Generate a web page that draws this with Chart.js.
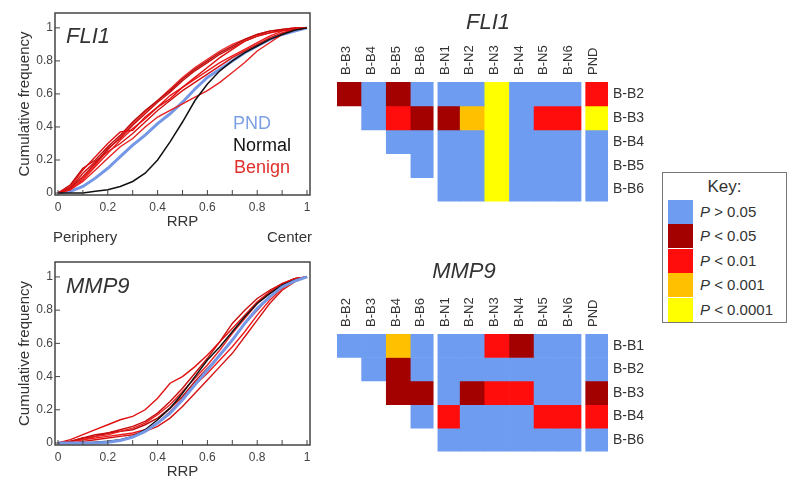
<!DOCTYPE html>
<html><head><meta charset="utf-8">
<script src="https://cdn.jsdelivr.net/npm/chart.js@4.4.0/dist/chart.umd.min.js"></script>
<style>
body{margin:0;background:#fff;width:800px;height:490px;overflow:hidden;position:relative;font-family:Arial,"Liberation Sans",sans-serif}
canvas{position:absolute}
#key{position:absolute;left:662px;top:172px;width:125px;height:151px;border:1px solid #777;box-sizing:border-box;color:#333;background:#fff}
#key .t{position:absolute;left:0;width:100%;top:4px;text-align:center;font-size:17px;line-height:20px}
#key .row{position:absolute;left:5px;height:24px;width:115px}
#key .sw{position:absolute;left:0;top:0;width:25px;height:100%}
#key .lb{position:absolute;left:32px;top:0;line-height:24px;font-size:15px;white-space:nowrap}
</style></head><body>
<canvas id="cdf1" width="330" height="250" style="left:0;top:0"></canvas>
<canvas id="cdf2" width="330" height="240" style="left:0;top:250px"></canvas>
<canvas id="hm1" width="340" height="215" style="left:320px;top:0"></canvas>
<canvas id="hm2" width="340" height="215" style="left:320px;top:250px"></canvas>
<div id="key"><div class="t">Key:</div></div>
<script>
// ---------- data ----------
const rrp = [0,0.05,0.1,0.15,0.2,0.25,0.3,0.35,0.4,0.45,0.5,0.55,0.6,0.65,0.7,0.75,0.8,0.85,0.9,0.95,1];
const xTickValues = [0,0.2,0.4,0.6,0.8,1];
const xMinorTicks = [0,0.1,0.2,0.3,0.4,0.5,0.6,0.7,0.8,0.9,1];
const yTickValues = [0,0.2,0.4,0.6,0.8,1];

const fli1PND    = [0,0.01,0.04,0.09,0.15,0.22,0.29,0.35,0.42,0.48,0.55,0.63,0.70,0.75,0.80,0.85,0.89,0.93,0.96,0.98,1];
const fli1Normal = [0,0,0,0.01,0.02,0.04,0.07,0.12,0.20,0.31,0.43,0.56,0.66,0.74,0.80,0.85,0.89,0.93,0.96,0.985,1];
const fli1Benign = [
  [0,0.04,0.14,0.22,0.30,0.37,0.38,0.46,0.52,0.57,0.64,0.70,0.76,0.82,0.87,0.92,0.95,0.97,0.985,0.995,1],
  [0,0.03,0.10,0.18,0.27,0.33,0.41,0.48,0.55,0.61,0.68,0.74,0.79,0.84,0.88,0.92,0.95,0.97,0.985,0.995,1],
  [0,0.02,0.08,0.16,0.24,0.32,0.39,0.45,0.52,0.59,0.64,0.69,0.74,0.79,0.83,0.87,0.91,0.95,0.98,0.99,1],
  [0,0.03,0.12,0.19,0.25,0.30,0.36,0.43,0.50,0.56,0.62,0.67,0.72,0.77,0.82,0.86,0.90,0.94,0.97,0.99,1],
  [0,0.02,0.07,0.14,0.21,0.28,0.33,0.40,0.46,0.50,0.54,0.58,0.62,0.67,0.73,0.79,0.86,0.91,0.96,0.99,1],
  [0,0.05,0.15,0.20,0.28,0.35,0.43,0.50,0.56,0.62,0.69,0.75,0.80,0.85,0.89,0.93,0.96,0.98,0.99,1,1],
  [0,0.02,0.09,0.17,0.26,0.34,0.42,0.49,0.56,0.63,0.70,0.76,0.81,0.86,0.90,0.93,0.96,0.98,0.99,1,1]
];

const mmp9PND    = [0,0,0,0,0.005,0.015,0.035,0.07,0.12,0.18,0.26,0.35,0.44,0.53,0.62,0.72,0.81,0.88,0.94,0.975,1];
const mmp9Normal = [0,0,0,0.005,0.01,0.02,0.04,0.08,0.14,0.21,0.30,0.40,0.50,0.58,0.67,0.76,0.84,0.90,0.95,0.98,1];
const mmp9Benign = [
  [0,0.02,0.05,0.08,0.11,0.14,0.16,0.20,0.27,0.36,0.40,0.46,0.53,0.61,0.69,0.77,0.85,0.91,0.96,0.99,1],
  [0,0.01,0.03,0.05,0.06,0.08,0.10,0.13,0.18,0.25,0.33,0.42,0.51,0.61,0.72,0.80,0.87,0.92,0.96,0.99,1],
  [0,0.01,0.02,0.03,0.04,0.05,0.06,0.08,0.12,0.19,0.27,0.35,0.42,0.50,0.58,0.67,0.77,0.86,0.93,0.98,1],
  [0,0,0.01,0.02,0.03,0.04,0.05,0.07,0.10,0.15,0.22,0.30,0.38,0.46,0.54,0.64,0.74,0.84,0.92,0.97,1],
  [0,0.01,0.02,0.04,0.05,0.07,0.09,0.12,0.17,0.23,0.31,0.39,0.47,0.56,0.66,0.75,0.84,0.90,0.95,0.99,1],
  [0,0.01,0.03,0.04,0.06,0.07,0.08,0.11,0.15,0.21,0.28,0.37,0.45,0.53,0.62,0.72,0.80,0.88,0.95,0.99,1]
];

// P-value categories: 0 P>0.05, 1 P<0.05, 2 P<0.01, 3 P<0.001, 4 P<0.0001, null = no cell
const pLabels = ['> 0.05','< 0.05','< 0.01','< 0.001','< 0.0001'];
const pColors = ['#6d9cf1','#a30000','#ff0d0d','#ffc000','#ffff00'];

const fli1Cols = ['B-B3','B-B4','B-B5','B-B6','B-N1','B-N2','B-N3','B-N4','B-N5','B-N6','PND'];
const fli1Rows = ['B-B2','B-B3','B-B4','B-B5','B-B6'];
const fli1P = [
  [1,0,1,0,0,0,4,0,0,0,2],
  [null,0,2,1,1,3,4,0,2,2,4],
  [null,null,0,0,0,0,4,0,0,0,0],
  [null,null,null,0,0,0,4,0,0,0,0],
  [null,null,null,null,0,0,4,0,0,0,0]
];
const mmp9Cols = ['B-B2','B-B3','B-B4','B-B6','B-N1','B-N2','B-N3','B-N4','B-N5','B-N6','PND'];
const mmp9Rows = ['B-B1','B-B2','B-B3','B-B4','B-B6'];
const mmp9P = [
  [0,0,3,0,0,0,2,1,0,0,0],
  [null,0,1,0,0,0,0,0,0,0,0],
  [null,null,1,1,0,1,2,2,0,0,1],
  [null,null,null,0,2,0,0,0,2,2,2],
  [null,null,null,null,0,0,0,0,0,0,0]
];
const gapAfter = [3,9];

// ---------- helpers ----------
const FONT = 'Arial, "Liberation Sans", sans-serif';
const redShades = ['#e01010','#c80d0d','#ee1a1a','#d41212','#e62020','#b80a0a','#f02a2a'];
const fmt = v => String(Math.round(v*10)/10);

const textPlugin = {
  id:'texts',
  afterDraw(chart, args, opts){
    const ctx = chart.ctx;
    (opts.items||[]).forEach(t=>{
      ctx.save();
      ctx.font = t.font; ctx.fillStyle = t.color; ctx.textAlign = t.align||'left'; ctx.textBaseline = 'middle';
      ctx.fillText(t.text, t.x, t.y);
      ctx.restore();
    });
  }
};
const framePlugin = {
  id:'frame',
  afterDatasetsDraw(chart){
    const {ctx, chartArea:a, scales} = chart;
    ctx.save();
    ctx.strokeStyle = '#444'; ctx.lineWidth = 1.5;
    ctx.strokeRect(a.left, a.top, a.right-a.left, a.bottom-a.top);
    ctx.lineWidth = 1;
    ctx.beginPath();
    xMinorTicks.forEach(v=>{const x=scales.x.getPixelForValue(v); ctx.moveTo(x,a.bottom); ctx.lineTo(x,a.bottom-5);});
    yTickValues.forEach(v=>{const y=scales.y.getPixelForValue(v); ctx.moveTo(a.left,y); ctx.lineTo(a.left+5,y);});
    ctx.stroke();
    ctx.restore();
  }
};
function pts(arr){ return arr.map((v,i)=>({x:rrp[i], y:v})); }

function cdfChart(id, pnd, normal, benign, topPad, bottomPad, texts, blueOnTop){
  const reds = benign.map((b,i)=>({data:pts(b), borderColor:redShades[i%redShades.length], borderWidth:1.4}));
  const blue = {data:pts(pnd), borderColor:'#7598e6', borderWidth:3};
  const black = {data:pts(normal), borderColor:'#111', borderWidth:1.5};
  // first dataset is drawn on top
  const ds = blueOnTop ? [blue, black, ...reds] : [black, ...reds, blue];
  ds.forEach(d=>{d.pointRadius=0; d.tension=0; d.fill=false;});
  return new Chart(document.getElementById(id), {
    type:'line',
    data:{datasets:ds},
    options:{
      responsive:false, animation:false, events:[],
      layout:{padding:{left:0,right:20,top:topPad,bottom:bottomPad}},
      plugins:{legend:{display:false}, tooltip:{enabled:false}, texts:{items:texts}},
      scales:{
        x:{type:'linear', min:-0.012, max:1.012,
          grid:{display:false, drawTicks:false}, border:{display:false},
          afterBuildTicks:s=>{s.ticks = xTickValues.map(v=>({value:v}));},
          afterFit:s=>{s.height=36;},
          ticks:{padding:5, color:'#444', font:{family:FONT,size:12}, maxRotation:0, autoSkip:false, callback:fmt},
          title:{display:true, text:'RRP', color:'#333', font:{family:FONT,size:15}, padding:0}},
        y:{type:'linear', min:-0.012, max:1.09,
          grid:{display:false, drawTicks:false}, border:{display:false},
          afterBuildTicks:s=>{s.ticks = yTickValues.map(v=>({value:v}));},
          afterFit:s=>{s.width=55;},
          ticks:{padding:2, color:'#444', font:{family:FONT,size:12}, autoSkip:false, callback:fmt},
          title:{display:true, text:'Cumulative frequency', color:'#333', font:{family:FONT,size:15}, padding:{top:16,bottom:0}}}
      }
    },
    plugins:[framePlugin, textPlugin]
  });
}

const gapPlugin = {
  id:'gaps',
  afterDatasetsDraw(chart){
    const {ctx, chartArea:a, scales} = chart;
    ctx.save(); ctx.fillStyle = '#fff';
    gapAfter.forEach(j=>{
      const x = (scales.x.getPixelForValue(j)+scales.x.getPixelForValue(j+1))/2;
      ctx.fillRect(x-2, a.top-1, 4, a.bottom-a.top+2);
    });
    ctx.restore();
  }
};
function heatmap(id, cols, rows, P, areaTop, padBottom, texts){
  const ds = rows.map((r,i)=>({
    label:r,
    data:P[i].map(c=> c===null ? null : [i, i+1]),
    backgroundColor:P[i].map(c=> c===null ? 'rgba(0,0,0,0)' : pColors[c]),
    borderWidth:0, barPercentage:1, categoryPercentage:1, grouped:false
  }));
  return new Chart(document.getElementById(id), {
    type:'bar',
    data:{labels:cols, datasets:ds},
    options:{
      responsive:false, animation:false, events:[],
      layout:{padding:{left:17,right:0,top:0,bottom:padBottom}},
      plugins:{legend:{display:false}, tooltip:{enabled:false}, texts:{items:texts}},
      scales:{
        x:{position:'top', grid:{display:false, drawTicks:false}, border:{display:false},
          ticks:{minRotation:90, maxRotation:90, padding:7, labelOffset:13, color:'#333', font:{family:FONT,size:13}, autoSkip:false},
          afterFit:s=>{s.height=areaTop;}},
        y:{position:'right', type:'linear', min:0, max:rows.length, reverse:true,
          grid:{display:false, drawTicks:false}, border:{display:false},
          afterBuildTicks:s=>{s.ticks = rows.map((r,i)=>({value:i+0.5}));},
          ticks:{callback:(v,i)=>rows[i], padding:5, color:'#333', font:{family:FONT,size:14}, autoSkip:false},
          afterFit:s=>{s.width=52;}}
      }
    },
    plugins:[gapPlugin, textPlugin]
  });
}

// ---------- charts ----------
cdfChart('cdf1', fli1PND, fli1Normal, fli1Benign, 13, 19, [
  {text:'FLI1', x:66, y:37, font:'italic 22px '+FONT, color:'#333'},
  {text:'PND', x:233, y:124, font:'18px '+FONT, color:'#7d9fe4'},
  {text:'Normal', x:233, y:146, font:'18px '+FONT, color:'#111'},
  {text:'Benign', x:234, y:168, font:'18px '+FONT, color:'#e0302c'},
  {text:'Periphery', x:53, y:238, font:'15px '+FONT, color:'#333'},
  {text:'Center', x:312, y:238, font:'15px '+FONT, color:'#333', align:'right'}
], false);
cdfChart('cdf2', mmp9PND, mmp9Normal, mmp9Benign, 12, 9, [
  {text:'MMP9', x:66, y:37, font:'italic 22px '+FONT, color:'#333'}
], true);
heatmap('hm1', fli1Cols, fli1Rows, fli1P, 82, 12, [
  {text:'FLI1', x:168, y:23, font:'italic 22px '+FONT, color:'#333', align:'center'}
]);
heatmap('hm2', mmp9Cols, mmp9Rows, mmp9P, 84, 13, [
  {text:'MMP9', x:144, y:22, font:'italic 22px '+FONT, color:'#333', align:'center'}
]);

// ---------- key ----------
const key = document.getElementById('key');
pLabels.forEach((l,i)=>{
  const row = document.createElement('div');
  row.className='row'; row.style.top = (27+i*24.4)+'px';
  row.innerHTML = '<div class="sw" style="background:'+pColors[i]+'"></div><div class="lb"><i>P</i> '+l.replace('<','&lt;')+'</div>';
  key.appendChild(row);
});
</script>
</body></html>
